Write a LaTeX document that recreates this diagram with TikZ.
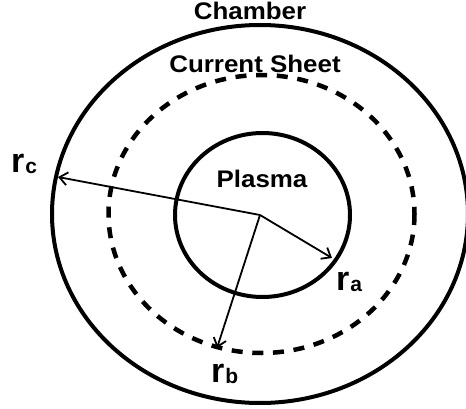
\documentclass[tikz,border=0pt]{standalone}
\usepackage{fontspec}
\setmainfont{Liberation Sans}
\usetikzlibrary{arrows.meta}
\tikzset{
  bound/.style={line width=4pt},
  sheet/.style={line width=4.5pt, dash pattern=on 11pt off 9.7pt},
  radius arrow/.style={line width=1.8pt, -{Straight Barb[length=8pt,width=13pt]}},
  title/.style={inner sep=0pt, anchor=base, font=\fontsize{24}{24}\selectfont\bfseries},
  rlabel/.style={inner sep=0pt, anchor=base west, font=\fontsize{34}{34}\selectfont\bfseries},
}
\newcommand{\rsub}[1]{r\kern1pt\raisebox{-1.5pt}{\fontsize{21}{21}\selectfont\bfseries #1}}
\begin{document}
\begin{tikzpicture}[x=1pt,y=-1pt]
\useasboundingbox (0,0) rectangle (466,409);
% shapes
\draw[bound] (260,214) ellipse [x radius=208, y radius=189];
\draw[sheet] (261.5,214) ellipse [x radius=153, y radius=139];
\draw[bound] (262.5,215) ellipse [x radius=87.5, y radius=82];
% centre and arrow end points
\coordinate (O) at (260,215);
\coordinate (Ec) at (58,177);
\coordinate (Ea) at (332,258);
\coordinate (Eb) at (217,348);
\draw[radius arrow] (O) -- (Ec);
\draw[radius arrow] (O) -- (Ea);
\draw[radius arrow] (O) -- (Eb);
% labels
\node[title] (chamber) at (250,20) {\scalebox{1.08}[1]{Chamber}};
\node[title] (sheet) at (255,73) {\scalebox{1.08}[1]{Current Sheet}};
\node[title] (plasma) at (262,188) {\scalebox{1.08}[1]{Plasma}};
\node[rlabel] (rc) at (11,172) {\rsub{c}};
\node[rlabel] (ra) at (336,290) {\rsub{a}};
\node[rlabel] (rb) at (211,382) {\rsub{b}};
\end{tikzpicture}
\end{document}
